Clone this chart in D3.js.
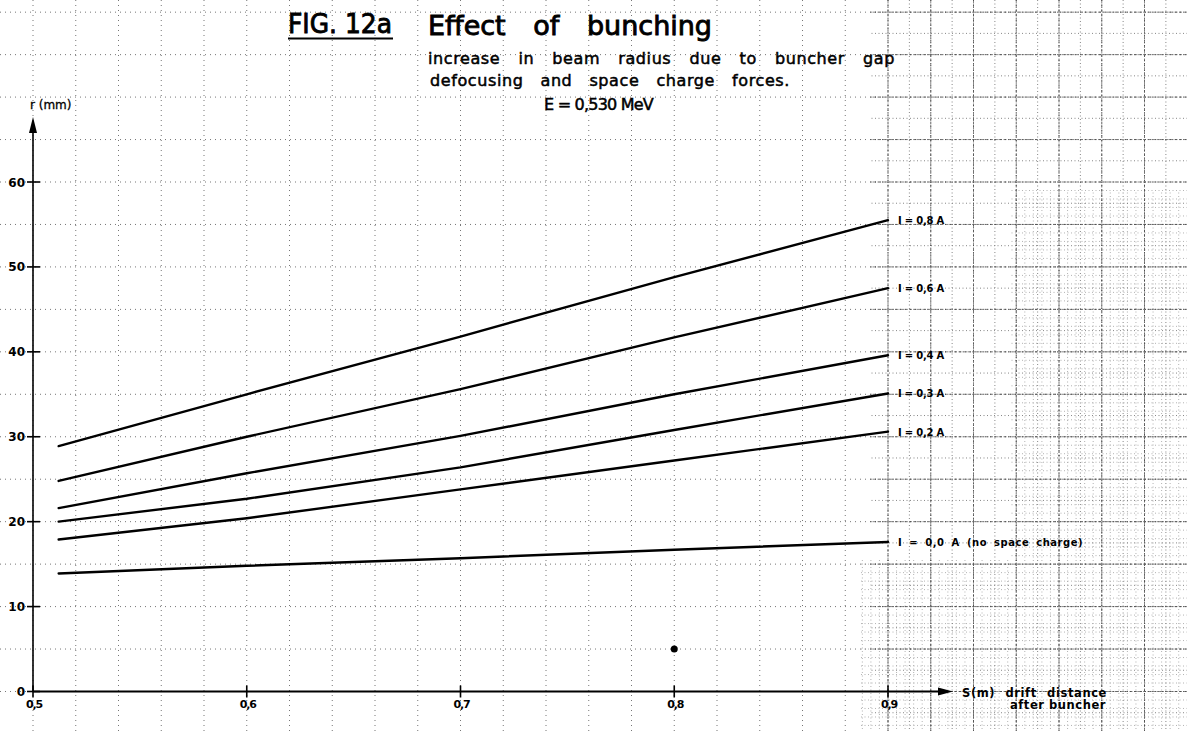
<!DOCTYPE html>
<html><head><meta charset="utf-8">
<script src="https://cdn.jsdelivr.net/npm/d3@7"></script>
<style>body{margin:0;background:#fff} svg{display:block} text{white-space:pre}</style>
</head><body>
<svg id="c" width="1187" height="731"></svg>
<script>
// ---- data ----
const sValues = [0.512, 0.6, 0.7, 0.8, 0.9];
const r08 = [28.9, 35.0, 41.8, 48.8, 55.5];
const r06 = [24.8, 30.0, 35.6, 41.7, 47.5];
const r04 = [21.6, 25.7, 30.1, 35.0, 39.6];
const r03 = [20.0, 22.7, 26.4, 30.8, 35.1];
const r02 = [17.9, 20.4, 23.8, 27.2, 30.6];
const r00 = [13.9, 14.8, 15.7, 16.7, 17.6];
const seriesValues = [r08, r06, r04, r03, r02, r00];
const seriesLabels = ["I = 0,8 A", "I = 0,6 A", "I = 0,4 A", "I = 0,3 A", "I = 0,2 A", "I = 0,0 A (no space charge)"];
const xTicks = [0.5, 0.6, 0.7, 0.8, 0.9];
const xTickLabels = ["0,5", "0,6", "0,7", "0,8", "0,9"];
const yTicks = [0, 10, 20, 30, 40, 50, 60];
const yTickLabels = ["0", "10", "20", "30", "40", "50", "60"];
const spot = [[0.8, 5.0]];

const W = 1187, H = 731;
const svg = d3.select("#c");
const x = d3.scaleLinear().domain([0.5, 0.9]).range([33, 888]);
const y = d3.scaleLinear().domain([0, 60]).range([691.5, 182]);
const font = "'DejaVu Sans', sans-serif";

svg.append("rect").attr("width", W).attr("height", H).attr("fill", "#fff");

// ---- graph paper grid ----
const defs = svg.append("defs");
function clip(id, rects) {
  const c = defs.append("clipPath").attr("id", id);
  rects.forEach(r => c.append("rect").attr("x", r[0]).attr("y", r[1]).attr("width", r[2]).attr("height", r[3]));
}
clip("all", [[0, 0, W, H]]);
clip("right", [[870, 0, W - 870, H]]);
clip("fine", [[1010, 190, W - 1010, H - 190], [860, 560, 150, H - 560]]);

const sMin = x.invert(0), sMax = x.invert(W);
const rMin = y.invert(H), rMax = y.invert(0);
function grid(clipId, ds, dr, stroke, dash, width, opacity) {
  const g = svg.append("g").attr("clip-path", `url(#${clipId})`)
    .attr("stroke", stroke).attr("stroke-dasharray", dash)
    .attr("stroke-width", width).attr("opacity", opacity);
  const xs = d3.range(Math.ceil((sMin - 0.5) / ds) * ds + 0.5, sMax, ds);
  const ys = d3.range(Math.ceil(rMin / dr) * dr, rMax, dr);
  g.selectAll("line.v").data(xs).join("line").attr("class", "v")
    .attr("x1", d => x(d)).attr("x2", d => x(d)).attr("y1", 0).attr("y2", H);
  g.selectAll("line.h").data(ys).join("line").attr("class", "h")
    .attr("y1", d => y(d)).attr("y2", d => y(d)).attr("x1", 0).attr("x2", W);
}
grid("fine", 0.004, 1, "#888", "1,2.5", 0.9, 0.7);
grid("all", 0.02, 5, "#555", "1,4", 1, 0.8);
grid("right", 0.01, 2.5, "#555", "1,2.5", 1, 0.7);
grid("right", 0.02, 5, "#444", "3,1.5", 0.9, 0.7);

// ---- axes ----
const ax = svg.append("g").attr("stroke", "#000");
ax.append("line").attr("x1", 33).attr("x2", 33).attr("y1", y(0)).attr("y2", 132).attr("stroke-width", 1.6);
svg.append("path").attr("d", "M33,117 L29,133 L37,133 Z").attr("fill", "#000");
ax.selectAll("line.yt").data(yTicks).join("line").attr("class", "yt")
  .attr("x1", 27).attr("x2", 40).attr("y1", d => y(d)).attr("y2", d => y(d)).attr("stroke-width", 1.6);
svg.selectAll("text.yl").data(yTicks).join("text").attr("class", "yl")
  .attr("x", 25).attr("y", d => y(d) + 4.5).attr("text-anchor", "end")
  .attr("font-family", font).attr("font-size", 12).attr("font-weight", "bold")
  .text((d, i) => yTickLabels[i]);
ax.append("line").attr("x1", 33).attr("x2", 942).attr("y1", y(0)).attr("y2", y(0)).attr("stroke-width", 2.2);
svg.append("path").attr("d", `M953,${y(0)} L938,${y(0) - 4} L938,${y(0) + 4} Z`).attr("fill", "#000");
ax.selectAll("line.xt").data(xTicks).join("line").attr("class", "xt")
  .attr("x1", d => x(d)).attr("x2", d => x(d)).attr("y1", y(0) - 6).attr("y2", y(0) + 6).attr("stroke-width", 1.6);
svg.selectAll("text.xl").data(xTicks).join("text").attr("class", "xl")
  .attr("x", d => x(d) + 1).attr("y", y(0) + 16).attr("text-anchor", "middle")
  .attr("font-family", font).attr("font-size", 11).attr("font-weight", "bold").attr("letter-spacing", -1.2)
  .text((d, i) => xTickLabels[i]);

// helper: widen word gaps (or tighten letters) to hit a target width
function fitWords(sel, target, ls) {
  const str = sel.text();
  const n = str.split(" ").length - 1;
  const w = sel.node().getComputedTextLength();
  if (w <= target && n > 0) {
    sel.attr("word-spacing", (target - w) / n);
  } else {
    sel.attr("letter-spacing", ls + (target - w) / str.length);
  }
  return sel;
}
function txt(xp, yp, size, str, opt = {}) {
  const t = svg.append("text").attr("x", xp).attr("y", yp).attr("font-family", font)
    .attr("font-size", size).attr("fill", "#000").text(str);
  if (opt.bold) t.attr("font-weight", "bold");
  if (opt.stroke) t.attr("stroke", "#000").attr("stroke-width", opt.stroke);
  const ls = opt.ls || 0;
  t.attr("letter-spacing", ls);
  if (opt.width) fitWords(t, opt.width, ls);
  return t;
}

// axis titles
txt(30, 109, 12, "r (mm)", { stroke: 0.3 });
txt(962, 697, 11.5, "S(m) drift distance", { bold: true, ls: 0.6, width: 145 });
txt(1010, 709, 11.5, "after buncher", { bold: true, ls: 0.6, width: 96 });

// ---- curves ----
const line = d3.line().x(d => x(d[0])).y(d => y(d[1]));
seriesValues.forEach((vals, i) => {
  const pts = sValues.map((s, j) => [s, vals[j]]);
  svg.append("path").attr("d", line(pts)).attr("fill", "none").attr("stroke", "#000")
    .attr("stroke-width", 2.4).attr("stroke-linecap", "round").attr("stroke-linejoin", "round");
  txt(898, y(vals[vals.length - 1]) + 4, 10, seriesLabels[i], { bold: true, ls: i === 5 ? 0.5 : 0, width: i === 5 ? 185 : 46 });
});

// ink spot
svg.selectAll("circle.spot").data(spot).join("circle").attr("class", "spot")
  .attr("cx", d => x(d[0])).attr("cy", d => y(d[1])).attr("r", 3.5).attr("fill", "#000");

// ---- titles ----
const fig = txt(288, 33, 27, "FIG. 12a", { stroke: 0.9 });
fig.attr("textLength", 104).attr("lengthAdjust", "spacingAndGlyphs");
svg.append("line").attr("x1", 288).attr("x2", 393).attr("y1", 38.5).attr("y2", 38.5).attr("stroke", "#000").attr("stroke-width", 2.2);
txt(428, 35, 27, "Effect of bunching", { stroke: 0.9, width: 284 });
txt(428, 64, 16, "increase in beam radius due to buncher gap", { stroke: 0.5, ls: 0.6, width: 467 });
txt(430, 86, 16, "defocusing and space charge forces.", { stroke: 0.5, ls: 0.6, width: 360 });
txt(544, 110, 16, "E = 0,530 MeV", { stroke: 0.5, ls: 0, width: 109 });
</script>
</body></html>
